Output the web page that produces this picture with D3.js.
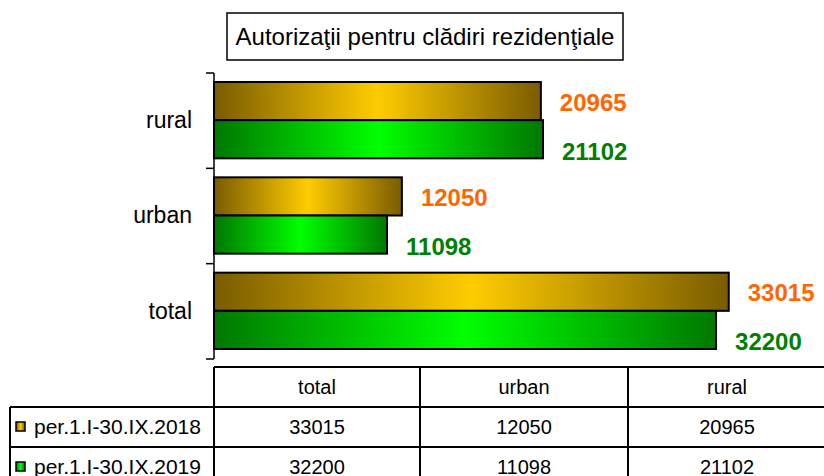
<!DOCTYPE html>
<html>
<head>
<meta charset="utf-8">
<script src="https://cdn.jsdelivr.net/npm/d3@7"></script>
<style>
  body { margin: 0; background: #fff; }
  svg { font-family: "Liberation Sans", Arial, sans-serif; }
</style>
</head>
<body>
<svg id="chart" width="824" height="476"></svg>
<script>
// data
var categories = ["rural", "urban", "total"];          // top to bottom in the chart
var tableColumns = ["total", "urban", "rural"];
var seriesNames = ["per.1.I-30.IX.2018", "per.1.I-30.IX.2019"];
var values2018 = { total: 33015, urban: 12050, rural: 20965 };
var values2019 = { total: 32200, urban: 11098, rural: 21102 };
var titleText = "Autorizaţii pentru clădiri rezidenţiale";

var seriesValues = [values2018, values2019];
var edgeColors = ["#7a5c00", "#007800"];
var midColors = ["#ffcc00", "#00ff00"];
var labelColors = ["#ff6600", "#008000"];
var labelShift = [1, 12];   // label centre below the bar centre

var svg = d3.select("#chart");

var margins = { left: 214, top: 73, bottom: 359 };

// gradients
var defs = svg.append("defs");
seriesNames.forEach(function(s, i) {
	var g = defs.append("linearGradient")
		.attr("id", "grad" + i)
		.attr("x1", "0%").attr("x2", "100%").attr("y1", "0%").attr("y2", "0%");
	g.append("stop").attr("offset", "0%").attr("stop-color", edgeColors[i]);
	g.append("stop").attr("offset", "50%").attr("stop-color", midColors[i]);
	g.append("stop").attr("offset", "100%").attr("stop-color", edgeColors[i]);
});

var xScale = d3.scaleLinear().domain([0, 35000]).range([margins.left, margins.left + 545.7]);
var yScale = d3.scaleBand().domain(categories).range([margins.top, margins.bottom]);
var subScale = d3.scaleBand().domain(d3.range(seriesNames.length))
	.range([9, yScale.bandwidth() - 10]);

// title box
svg.append("rect")
	.attr("x", 227).attr("y", 13).attr("width", 396).attr("height", 47)
	.attr("fill", "#fff").attr("stroke", "#000").attr("stroke-width", 1.5);
svg.append("text")
	.attr("x", 425).attr("y", 45)
	.attr("text-anchor", "middle")
	.style("font-size", "24px")
	.text(titleText);

// bars
seriesNames.forEach(function(s, i) {
	var g = svg.append("g").attr("class", "series" + i);
	g.selectAll("rect")
		.data(categories)
		.enter().append("rect")
		.attr("x", xScale(0))
		.attr("y", function(d) { return yScale(d) + subScale(i); })
		.attr("width", function(d) { return xScale(seriesValues[i][d]) - xScale(0); })
		.attr("height", subScale.bandwidth())
		.attr("fill", "url(#grad" + i + ")")
		.attr("stroke", "#000")
		.attr("stroke-width", 2);
	g.selectAll("text")
		.data(categories)
		.enter().append("text")
		.attr("x", function(d) { return xScale(seriesValues[i][d]) + 19; })
		.attr("y", function(d) {
			return yScale(d) + subScale(i) + subScale.bandwidth() / 2 + labelShift[i] + 8.5;
		})
		.attr("fill", labelColors[i])
		.style("font-size", "24px")
		.style("font-weight", "bold")
		.text(function(d) { return seriesValues[i][d]; });
});

// category axis
var yAxis = svg.append("g")
	.attr("transform", "translate(" + margins.left + ",0)")
	.call(d3.axisLeft(yScale).tickSize(0).tickPadding(22));
yAxis.select(".domain").remove();
yAxis.selectAll("text").style("font-size", "23px").attr("fill", "#000")
	.attr("font-family", null);
svg.append("line")
	.attr("x1", margins.left).attr("x2", margins.left)
	.attr("y1", margins.top).attr("y2", margins.bottom)
	.attr("stroke", "#000").attr("stroke-width", 1.5);
var edges = categories.map(function(d) { return yScale(d); }).concat([margins.bottom]);
svg.selectAll(".edgeTick")
	.data(edges)
	.enter().append("line")
	.attr("class", "edgeTick")
	.attr("x1", margins.left - 8).attr("x2", margins.left)
	.attr("y1", function(d) { return d; }).attr("y2", function(d) { return d; })
	.attr("stroke", "#000").attr("stroke-width", 1.5);

// data table
var colX = [214, 420, 628, 826];
var rowY = [367, 407, 447, 490];
var table = svg.append("g").attr("class", "table");
var lineStyle = function(sel) { return sel.attr("stroke", "#000").attr("stroke-width", 2); };

table.append("line").attr("x1", colX[0]).attr("x2", colX[3]).attr("y1", rowY[0]).attr("y2", rowY[0]).call(lineStyle);
table.append("line").attr("x1", 10).attr("x2", colX[3]).attr("y1", rowY[1]).attr("y2", rowY[1]).call(lineStyle);
table.append("line").attr("x1", 10).attr("x2", colX[3]).attr("y1", rowY[2]).attr("y2", rowY[2]).call(lineStyle);
colX.slice(0, 3).forEach(function(x) {
	table.append("line").attr("x1", x).attr("x2", x).attr("y1", rowY[0]).attr("y2", rowY[3]).call(lineStyle);
});
table.append("line").attr("x1", 10).attr("x2", 10).attr("y1", rowY[1]).attr("y2", rowY[3]).call(lineStyle);

tableColumns.forEach(function(c, j) {
	var cx = (colX[j] + colX[j + 1]) / 2;
	table.append("text").attr("x", cx).attr("y", rowY[0] + 27)
		.attr("text-anchor", "middle").style("font-size", "20px").text(c);
	seriesValues.forEach(function(v, i) {
		table.append("text").attr("x", cx).attr("y", rowY[i + 1] + 27)
			.attr("text-anchor", "middle").style("font-size", "20px").text(v[c]);
	});
});

seriesNames.forEach(function(s, i) {
	table.append("rect")
		.attr("x", 16).attr("y", rowY[i + 1] + 15).attr("width", 9).attr("height", 9)
		.attr("fill", "url(#grad" + i + ")").attr("stroke", "#000").attr("stroke-width", 1.5);
	table.append("text").attr("x", 34).attr("y", rowY[i + 1] + 27)
		.style("font-size", "21px").text(s);
});
</script>
</body>
</html>
